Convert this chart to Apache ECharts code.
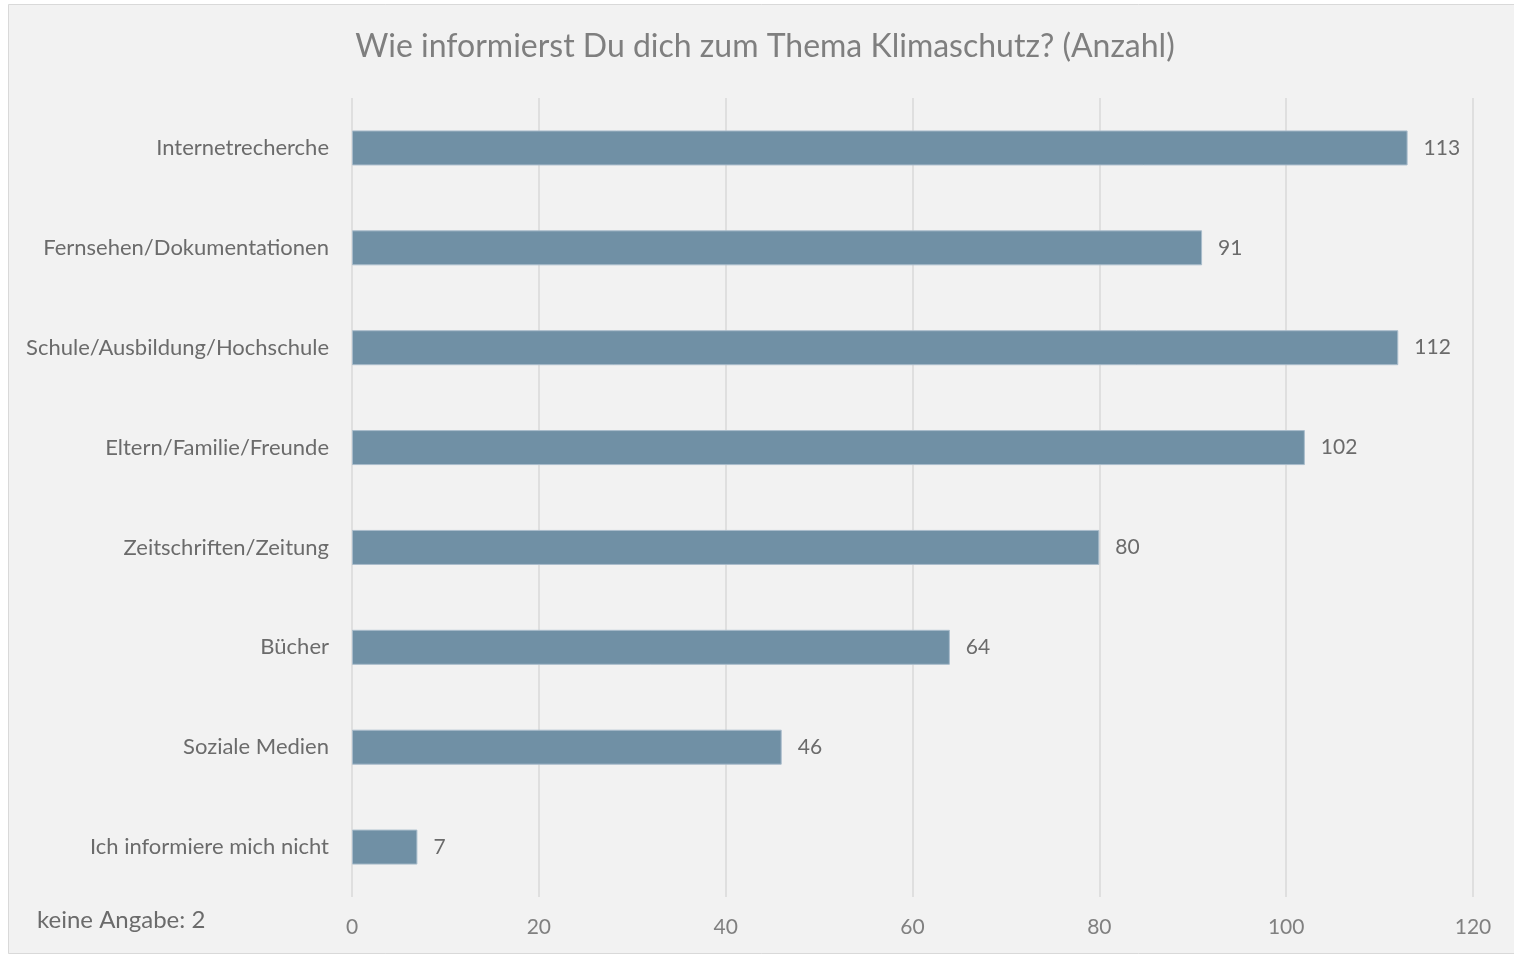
<!DOCTYPE html>
<html>
<head>
<meta charset="utf-8">
<script src="https://cdn.jsdelivr.net/npm/echarts@6/dist/echarts.min.js"></script>
<style>
  html, body { margin: 0; padding: 0; background: #fff; }
  #chart { width: 1514px; height: 955px; }
</style>
</head>
<body>
<div id="chart"></div>
<script>
  // Kategorien von oben nach unten
  var categories = [
    'Internetrecherche',
    'Fernsehen/Dokumentationen',
    'Schule/Ausbildung/Hochschule',
    'Eltern/Familie/Freunde',
    'Zeitschriften/Zeitung',
    'Bücher',
    'Soziale Medien',
    'Ich informiere mich nicht'
  ];
  var counts = [113, 91, 112, 102, 80, 64, 46, 7];
  var noAnswer = 2;

  var myChart = echarts.init(document.getElementById('chart'));
  myChart.setOption({
    backgroundColor: '#fff',
    textStyle: { fontFamily: 'Lato' },
    title: {
      text: 'Wie informierst Du dich zum Thema Klimaschutz? (Anzahl)',
      left: 760,
      top: 26,
      textAlign: 'center',
      textStyle: {
        color: '#7f7f7f',
        fontSize: 32,
        fontWeight: 'normal',
        fontFamily: 'Lato'
      }
    },
    graphic: [
      {
        type: 'rect',
        z: -10,
        shape: { x: 8.5, y: 4.5, width: 1510, height: 949 },
        style: { fill: '#f2f2f2', stroke: '#d9d9d9', lineWidth: 1 }
      },
      {
        type: 'text',
        left: 37,
        top: 908,
        style: {
          text: 'keine Angabe: ' + noAnswer,
          fill: '#6b6b6b',
          fontSize: 24,
          fontFamily: 'Lato'
        }
      }
    ],
    grid: {
      left: 352,
      right: 41,
      top: 98,
      bottom: 58
    },
    xAxis: {
      type: 'value',
      min: 0,
      max: 120,
      interval: 20,
      axisLine: { show: false },
      axisTick: { show: false },
      splitLine: { lineStyle: { color: '#d9d9d9', width: 1.5 } },
      axisLabel: { color: '#808080', fontSize: 21, margin: 20 }
    },
    yAxis: {
      type: 'category',
      inverse: true,
      data: categories,
      axisLine: { show: false },
      axisTick: { show: false },
      axisLabel: { color: '#6b6b6b', fontSize: 22, margin: 23 }
    },
    series: [
      {
        type: 'bar',
        data: counts,
        barWidth: 35,
        itemStyle: {
          color: '#7090a5',
          borderColor: '#a9bccb',
          borderWidth: 1
        },
        label: {
          show: true,
          position: 'right',
          distance: 16,
          color: '#6b6b6b',
          fontSize: 21
        }
      }
    ]
  });
</script>
</body>
</html>
